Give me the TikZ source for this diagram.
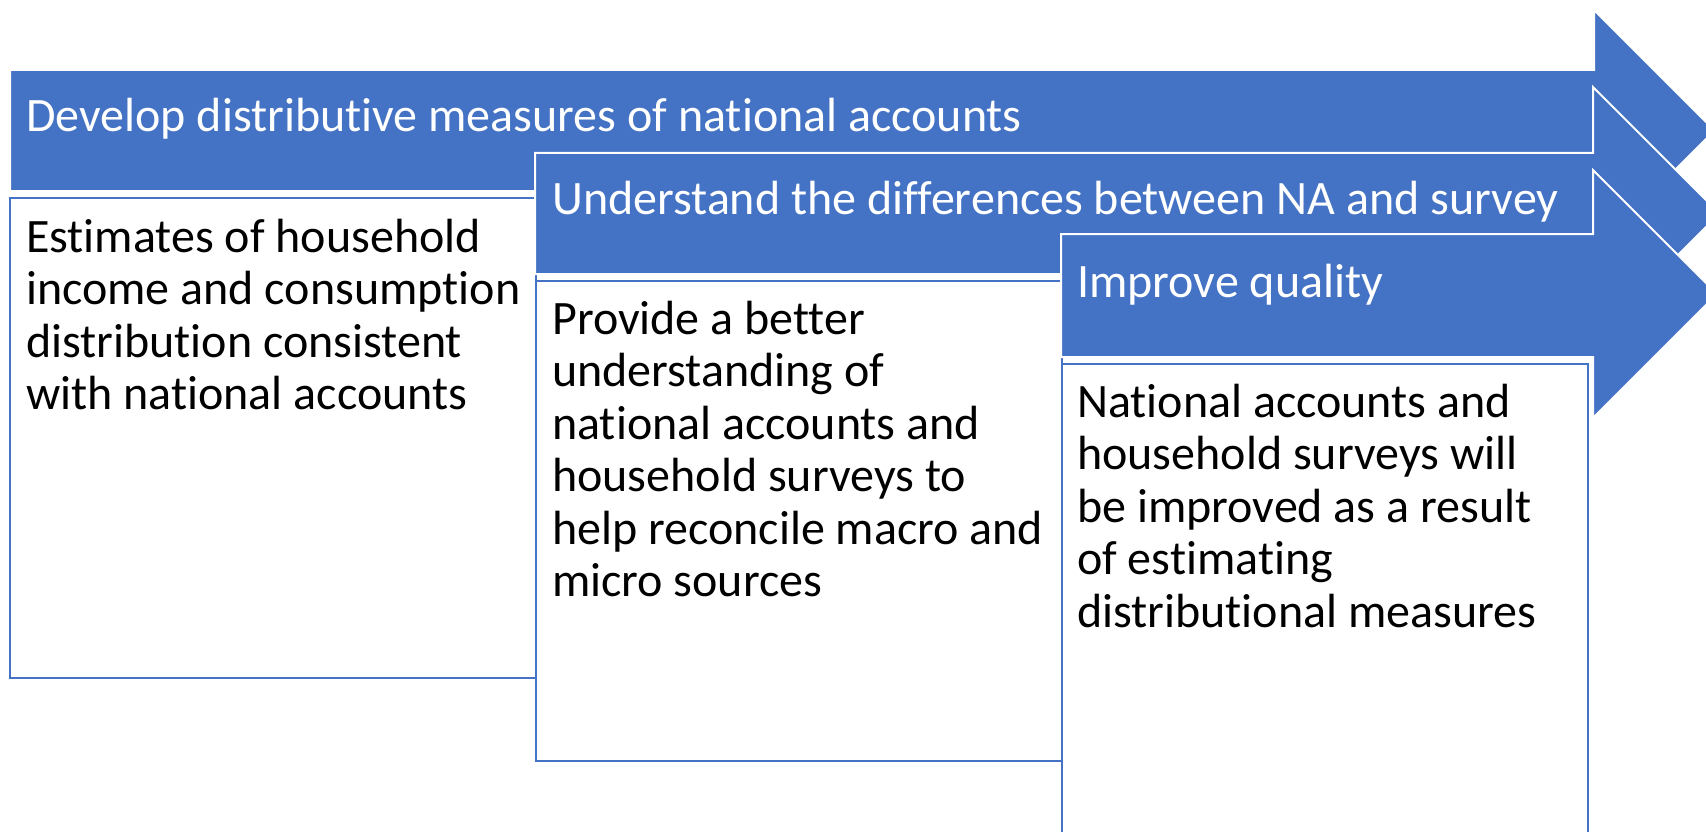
\documentclass[tikz,border=0pt]{standalone}
\usepackage{fontspec}
\setmainfont{Carlito}[Ligatures=NoCommon]
\usepackage{tikz}
\usetikzlibrary{positioning}

\definecolor{officeblue}{HTML}{4472C4}
\newcommand{\firststrut}{\rule{0pt}{40pt}}

\begin{document}
\begin{tikzpicture}[
    x=1pt, y=-1pt,
    every node/.style={font=\fontsize{48}{52.5}\selectfont},
    chevron/.style={
        fill=officeblue,
        draw=white,
        line width=2pt,
        line join=miter
    },
    detailbox/.style={
        rectangle,
        fill=white,
        draw=officeblue,
        line width=2pt,
        minimum width=526pt,
        minimum height=480pt,
        anchor=north west,
        inner sep=0pt
    },
    headtext/.style={text=white, align=left, inner sep=0pt},
    bodytext/.style={text=black, align=left, inner sep=0pt}
]

\useasboundingbox (0,0) rectangle (1706,832);

% step 1
\coordinate (a1) at (10,70);
\filldraw [chevron] (a1) -- (1594,70) -- (1594,10) -- (1714.5,130.5)
    -- (1594,251) -- (1594,191) -- (10,191) -- cycle;
\node (h1) [headtext, below right=21pt and 16pt of a1] {\firststrut Develop distributive measures of national accounts};

\node (b1) [detailbox] at (9,197) {};
\node (t1) [bodytext, below right=15pt and 17pt of b1.north west] {\firststrut Estimates of household\\
income and consumption\\
distribution consistent\\
with national accounts};

% step 2
\coordinate (a2) at (535,153);
\filldraw [chevron] (a2) -- (1593,153) -- (1593,87) -- (1719.5,213.5)
    -- (1593,340) -- (1593,274) -- (535,274) -- cycle;
\node (h2) [headtext, below right=21pt and 17pt of a2] {\firststrut Understand the differences between NA and survey};

\node (b2) [detailbox] at (535,280) {};
\node (t2) [bodytext, below right=14pt and 17pt of b2.north west] {\firststrut Provide a better\\
understanding of\\
national accounts and\\
household surveys to\\
help reconcile macro and\\
micro sources};

% step 3
\coordinate (a3) at (1061,234);
\filldraw [chevron] (a3) -- (1593,234) -- (1593,170) -- (1717,294)
    -- (1593,418) -- (1593,357) -- (1061,357) -- cycle;
\node (h3) [headtext, below right=23pt and 16pt of a3] {\firststrut Improve quality};

\node (b3) [detailbox] at (1061,363) {};
\node (t3) [bodytext, below right=14pt and 16pt of b3.north west] {\firststrut National accounts and\\
household surveys will\\
be improved as a result\\
of estimating\\
distributional measures};

\end{tikzpicture}
\end{document}
